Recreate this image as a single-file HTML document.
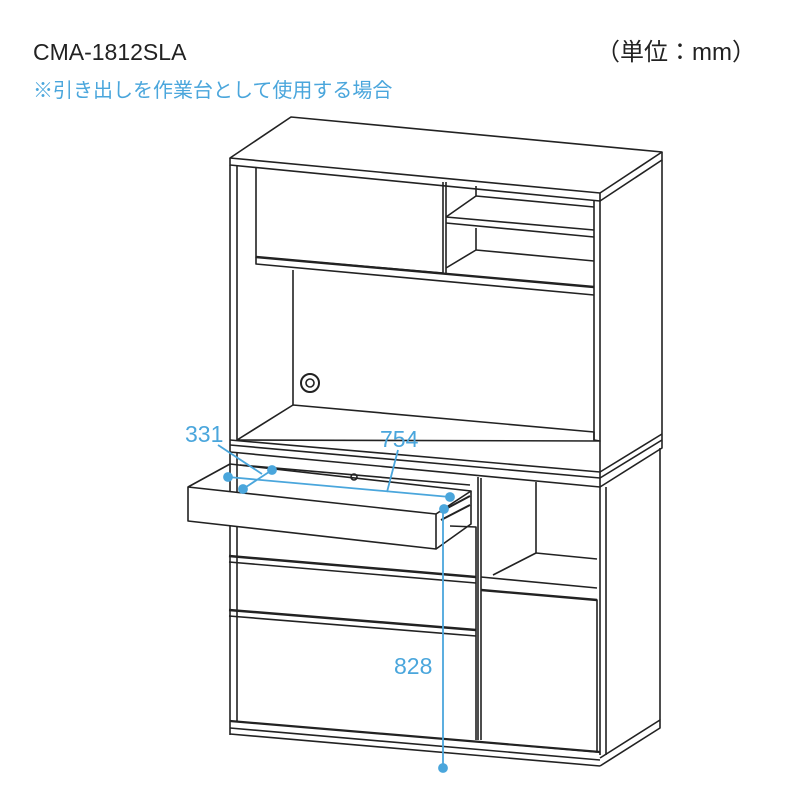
<!DOCTYPE html>
<html><head><meta charset="utf-8"><style>
body{margin:0;width:800px;height:800px;background:#fff;overflow:hidden}
</style></head><body>
<svg width="800" height="800" viewBox="0 0 800 800" xmlns="http://www.w3.org/2000/svg">
<text x="33" y="60" font-family="Liberation Sans, sans-serif" font-size="23" fill="#222">CMA-1812SLA</text>
<text x="596" y="60" font-family="Liberation Sans, 'Noto Sans CJK JP', sans-serif" font-size="24" fill="#222">（単位：mm）</text>
<text x="33" y="97" font-family="Liberation Sans, 'Noto Sans CJK JP', sans-serif" font-size="20" fill="#4aa6dc">※引き出しを作業台として使用する場合</text>
<g fill="none" stroke="#222" stroke-width="1.6" stroke-linejoin="round">
<polygon points="230,158 291,117 662,152 600,193" fill="#fff"/>
<polyline points="230,158 230,165 600,201 600,193"/>
<polyline points="600,201 662,160 662,152"/>
<line x1="230" y1="165" x2="230" y2="445"/>
<line x1="237" y1="166" x2="237" y2="440"/>
<line x1="600" y1="201" x2="600" y2="478"/>
<line x1="594" y1="200" x2="594" y2="440"/>
<line x1="662" y1="160" x2="662" y2="440"/>
<polyline points="256,167 256,257 443,273"/>
<line x1="443" y1="182" x2="443" y2="273"/>
<line x1="446" y1="182" x2="446" y2="273"/>
<line x1="256" y1="257" x2="594" y2="287" stroke-width="2.4"/>
<polyline points="256,257 256,264 594,295"/>
<polyline points="476,186 476,196 446,217"/>
<line x1="446" y1="217" x2="594" y2="230"/>
<line x1="446" y1="223" x2="594" y2="237"/>
<line x1="476" y1="196" x2="594" y2="207"/>
<polyline points="476,228 476,250 446,268"/>
<line x1="476" y1="250" x2="594" y2="261"/>
<line x1="293" y1="270" x2="293" y2="405"/>
<polygon points="237,440 293,405 594,432 594,440 600,441" />
<line x1="230" y1="445" x2="600" y2="478"/>
<line x1="230" y1="440" x2="600" y2="472"/>
<line x1="600" y1="478" x2="662" y2="440"/>
<line x1="600" y1="472" x2="662" y2="434"/>
<circle cx="310" cy="383" r="9" stroke-width="2"/>
<circle cx="310" cy="383" r="4"/>
<polyline points="600,478 600,487 662,448 662,440"/>
<line x1="230" y1="452" x2="600" y2="487"/>
<line x1="230" y1="445" x2="230" y2="735"/>
<line x1="237" y1="453" x2="237" y2="722"/>
<line x1="600" y1="487" x2="600" y2="755"/>
<line x1="606" y1="487" x2="606" y2="755"/>
<line x1="660" y1="448" x2="660" y2="720"/>
<line x1="478" y1="477" x2="478" y2="740"/>
<line x1="481" y1="478" x2="481" y2="740"/>
<polyline points="536,482 536,553 493,575"/>
<line x1="536" y1="553" x2="597" y2="559"/>
<line x1="481" y1="577" x2="597" y2="588"/>
<polyline points="481,590 597,600 597,752 481,742"/>
<line x1="481" y1="590" x2="597" y2="600" stroke-width="2.4"/>
<polygon points="188,487 436,514 436,549 188,521" fill="#fff"/>
<polyline points="188,487 230,464 471,491 436,514"/>
<polyline points="436,549 471,524 471,491"/>
<line x1="440" y1="512" x2="470" y2="496" stroke-width="2"/>
<line x1="441" y1="520" x2="470" y2="505" stroke-width="2"/>
<circle cx="354" cy="477" r="3"/>
<line x1="240" y1="465" x2="470" y2="485"/>
<polyline points="450,526 476,527 476,575"/>
<line x1="229" y1="556" x2="476" y2="577" stroke-width="2.5"/>
<line x1="229" y1="562" x2="476" y2="583"/>
<line x1="229" y1="610" x2="476" y2="630" stroke-width="2.5"/>
<line x1="229" y1="616" x2="476" y2="636"/>
<line x1="476" y1="575" x2="476" y2="740"/>
<line x1="230" y1="721" x2="600" y2="752" stroke-width="2.2"/>
<line x1="230" y1="728" x2="600" y2="760"/>
<line x1="230" y1="734" x2="600" y2="766"/>
<polyline points="600,766 660,728 660,720 600,758"/>
</g>
<g stroke="#4aa6dc" stroke-width="1.8" fill="#4aa6dc">
<line x1="228" y1="477" x2="450" y2="497"/>
<line x1="243" y1="489" x2="272" y2="470"/>
<line x1="218" y1="445" x2="262" y2="474"/>
<line x1="387" y1="492" x2="398" y2="450"/>
<line x1="443" y1="510" x2="443" y2="768"/>
<circle cx="228" cy="477" r="4"/><circle cx="272" cy="470" r="4"/><circle cx="243" cy="489" r="4"/>
<circle cx="450" cy="497" r="4"/><circle cx="444" cy="509" r="4"/><circle cx="443" cy="768" r="4"/>
</g>
<g font-family="Liberation Sans, sans-serif" font-size="23" fill="#4aa6dc">
<text x="185" y="442">331</text>
<text x="380" y="447">754</text>
<text x="394" y="674">828</text>
</g>
</svg>
</body></html>
